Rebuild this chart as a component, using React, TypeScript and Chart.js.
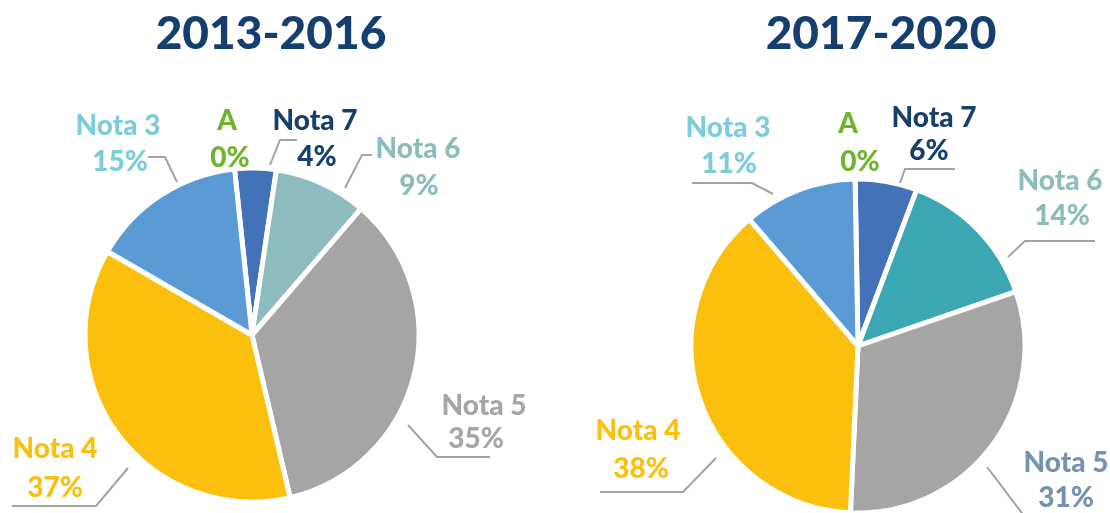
import React, { useEffect, useRef } from "react";
import { Chart, registerables } from "chart.js";

Chart.register(...registerables);

// ---------- DATA ----------
const categories = ["Nota 7", "Nota 6", "Nota 5", "Nota 4", "Nota 3", "A"];
const periods = ["2013-2016", "2017-2020"];
const values2013 = [4, 9, 35, 37, 15, 0];
const values2017 = [6, 14, 31, 38, 11, 0];

// ---------- STYLES ----------
const titleColor = "#143F6E";
const leaderColor = "#A3A3A3";
const sliceColors2013 = ["#4472B8", "#8DBBBE", "#A5A5A5", "#FBC00D", "#5B9BD5", "#6DB52D"];
const sliceColors2017 = ["#4472B8", "#3BA7B2", "#A5A5A5", "#FBC00D", "#5B9BD5", "#6DB52D"];
const labelColors2013 = ["#173F6B", "#8DBCBE", "#A6A6A6", "#FBC00D", "#7DCCDB", "#6DB52D"];
const labelColors2017 = ["#173F6B", "#8DBCBE", "#7592B0", "#FBC00D", "#7DCCDB", "#6DB52D"];

type Pt = [number, number];
type LabelLayout = { name: Pt; pct: Pt; leader: Pt[] };

// label placement relative to the pie centre (annotation layout)
const layout2013: LabelLayout[] = [
  { name: [63, -205], pct: [65, -169], leader: [[45, -195], [28, -195], [18, -170]] },
  { name: [166, -177], pct: [167, -140], leader: [[120, -180], [110, -180], [93, -147]] },
  { name: [232, 80], pct: [224, 113], leader: [[156, 90], [185, 122], [238, 122]] },
  { name: [-197, 123], pct: [-197, 162], leader: [[-124, 133], [-156, 171], [-240, 171]] },
  { name: [-134, -200], pct: [-132, -164], leader: [[-104, -178], [-87, -178], [-75, -153]] },
  { name: [-25, -205], pct: [-22, -168], leader: [] },
];
const layout2017: LabelLayout[] = [
  { name: [76, -219], pct: [71, -186], leader: [[97, -177], [47, -177], [42, -163]] },
  { name: [202, -156], pct: [204, -121], leader: [[237, -105], [167, -105], [150, -89]] },
  { name: [208, 126], pct: [208, 161], leader: [[129, 121], [170, 175]] },
  { name: [-220, 94], pct: [-217, 132], leader: [[-142, 112], [-175, 146], [-258, 146]] },
  { name: [-130, -209], pct: [-129, -173], leader: [[-166, -163], [-106, -163], [-85, -152]] },
  { name: [-10, -213], pct: [2, -175], leader: [] },
];

const FONT_FAMILY = "Lato, 'Open Sans', sans-serif";

type PieProps = {
  title: string;
  values: number[];
  sliceColors: string[];
  labelColors: string[];
  layout: LabelLayout[];
  rotation: number;
  padding: { left: number; right: number; top: number; bottom: number };
  titleX: number;
};

function PieChart(props: PieProps) {
  const ref = useRef<HTMLCanvasElement | null>(null);
  useEffect(() => {
    if (!ref.current) return;
    const labelPlugin = {
      id: "pieLabels",
      afterDraw(chart: any) {
        const ctx = chart.ctx as CanvasRenderingContext2D;
        const meta = chart.getDatasetMeta(0);
        const arc0 = meta.data[0];
        const cx = arc0.x;
        const cy = arc0.y;
        ctx.save();
        // title
        ctx.fillStyle = titleColor;
        ctx.font = `900 46px ${FONT_FAMILY}`;
        ctx.textAlign = "center";
        ctx.textBaseline = "alphabetic";
        ctx.fillText(props.title, props.titleX, 49);
        // leaders
        ctx.strokeStyle = leaderColor;
        ctx.lineWidth = 2;
        props.layout.forEach((l) => {
          if (l.leader.length < 2) return;
          ctx.beginPath();
          l.leader.forEach((p, i) => {
            if (i === 0) ctx.moveTo(cx + p[0], cy + p[1]);
            else ctx.lineTo(cx + p[0], cy + p[1]);
          });
          ctx.stroke();
        });
        // labels
        ctx.font = `900 28px ${FONT_FAMILY}`;
        const data = chart.data.datasets[0].data as number[];
        chart.data.labels.forEach((name: string, i: number) => {
          const l = props.layout[i];
          ctx.fillStyle = props.labelColors[i];
          ctx.fillText(name, cx + l.name[0], cy + l.name[1]);
          ctx.fillText(`${data[i]}%`, cx + l.pct[0], cy + l.pct[1]);
        });
        ctx.restore();
      },
    };
    const chart = new Chart(ref.current, {
      type: "pie",
      data: {
        labels: categories,
        datasets: [
          {
            data: props.values,
            backgroundColor: props.sliceColors,
            borderColor: "#FFFFFF",
            borderWidth: 5,
            radius: 167,
          } as any,
        ],
      },
      options: {
        animation: false,
        responsive: false,
        devicePixelRatio: 1,
        rotation: props.rotation,
        layout: { padding: props.padding },
        plugins: {
          legend: { display: false },
          tooltip: { enabled: false },
          title: { display: false },
        },
        events: [],
      } as any,
      plugins: [labelPlugin],
    });
    return () => chart.destroy();
  }, []);
  return <canvas ref={ref} width={555} height={513} style={{ display: "block" }} />;
}

export default function App() {
  return (
    <div
      style={{
        position: "absolute",
        left: 0,
        top: 0,
        width: 1110,
        height: 513,
        display: "flex",
        background: "#FFFFFF",
      }}
    >
      <PieChart
        title={periods[0]}
        values={values2013}
        sliceColors={sliceColors2013}
        labelColors={labelColors2013}
        layout={layout2013}
        rotation={-6}
        padding={{ left: 0, right: 51, top: 157, bottom: 0 }}
        titleX={271}
      />
      <PieChart
        title={periods[1]}
        values={values2017}
        sliceColors={sliceColors2017}
        labelColors={labelColors2017}
        layout={layout2017}
        rotation={-1}
        padding={{ left: 51, right: 0, top: 179, bottom: 0 }}
        titleX={326}
      />
    </div>
  );
}
